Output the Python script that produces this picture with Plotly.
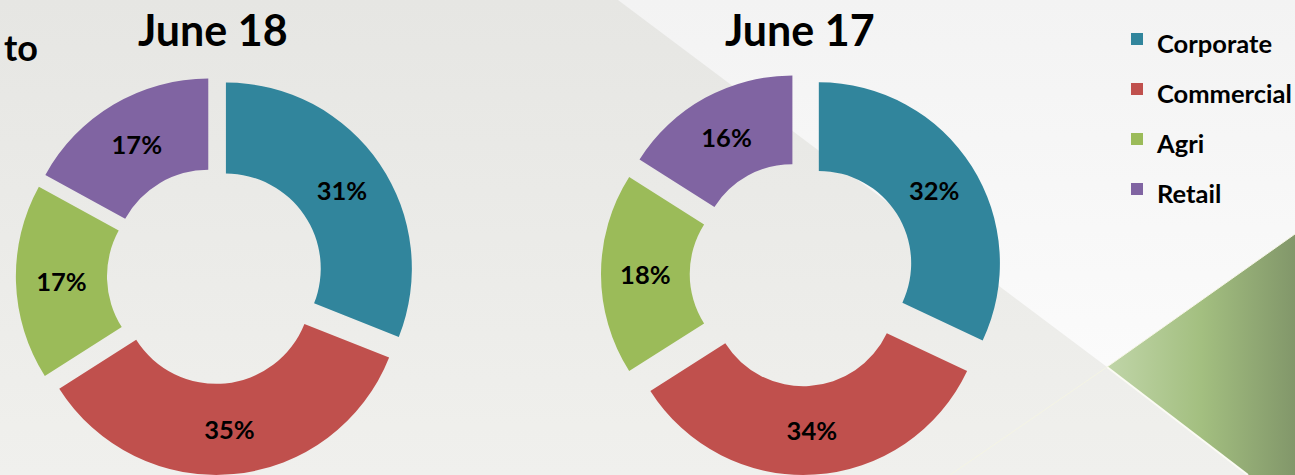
import plotly.graph_objects as go

# ---------------- data ----------------
categories = ["Corporate", "Commercial", "Agri", "Retail"]
june18_values = [31, 35, 17, 17]
june17_values = [32, 34, 18, 16]
chart_titles = ["June 18", "June 17"]
slice_colors = ["#31859c", "#c0504d", "#9bbb59", "#8064a2"]

# ---------------- layout constants ----------------
W, H = 1295, 475
FONT = "Lato"
LEGEND_TEXT_PX = 25.5

fig = go.Figure()

# ---------------- decorative slide background ----------------
def bg_poly(xs, ys, orient, scale, start, stop):
    fig.add_trace(go.Scatter(
        x=xs, y=ys, mode="lines", fill="toself",
        line=dict(width=0, color="rgba(0,0,0,0)"),
        fillgradient=dict(type=orient, colorscale=scale, start=start, stop=stop),
        hoverinfo="skip", showlegend=False))

def bg_line(xs, ys, color, width):
    fig.add_trace(go.Scatter(x=xs, y=ys, mode="lines",
                             line=dict(color=color, width=width),
                             hoverinfo="skip", showlegend=False))

# base grey
bg_poly([0, W, W, 0, 0], [0, 0, H, H, 0], "vertical",
        [[0, "#e6e6e3"], [1, "#f0f0ed"]], 0, H)
# light upper-right panel
bg_poly([618, W, W, 1107, 618], [0, 0, 234, 367, 0], "vertical",
        [[0, "#f3f3f3"], [1, "#fbfbfb"]], 0, 367)
# green triangle
bg_poly([1107, W, W, 1248, 1107], [367, 234, H, H, 367], "horizontal",
        [[0, "#c0d5a8"], [0.5, "#a3bf80"], [1, "#82976a"]], 1107, W)
# thin edge lines
bg_line([1107, 1248], [367, H], "#fbfbf4", 2)
bg_line([1107, 950], [367, H], "#f4f4e4", 1)
bg_line([1107, W], [367, 234], "#f6f6e6", 1)

# ---------------- donuts ----------------
legend_labels = ['<span style="font-size:%spx">%s</span>' % (LEGEND_TEXT_PX, c) for c in categories]

def donut(values, cx, cy, r, pull, hole, showlegend):
    half = r * (1 + pull)
    yc = H - cy
    fig.add_trace(go.Pie(
        labels=legend_labels, values=values, sort=False,
        direction="clockwise", rotation=0, hole=hole,
        pull=[pull] * len(values),
        marker=dict(colors=slice_colors, line=dict(width=0)),
        texttemplate="<b>%{value}%</b>", textposition="inside",
        insidetextorientation="horizontal",
        textfont=dict(family=FONT, size=25.5, color="black"),
        domain=dict(x=[(cx - half) / W, (cx + half) / W],
                    y=[max(0, yc - half) / H, min(H, yc + half) / H]),
        showlegend=showlegend, hoverinfo="percent"))

donut(june18_values, 215, 277, 187, 0.071, 0.51, True)
donut(june17_values, 802, 275, 182, 0.11, 0.51, False)

# ---------------- texts ----------------
annotations = [
    dict(text="<b>%s</b>" % chart_titles[0], x=213 / W, y=1 - 30 / H),
    dict(text="<b>%s</b>" % chart_titles[1], x=800 / W, y=1 - 30 / H),
]
for a in annotations:
    a.update(xref="paper", yref="paper", xanchor="center", yanchor="middle",
             showarrow=False, font=dict(family=FONT, size=43, color="black"))
annotations.append(dict(text="<b>to</b>", x=2 / W, y=1 - 47 / H, xref="paper", yref="paper",
                        xanchor="left", yanchor="middle", showarrow=False,
                        font=dict(family=FONT, size=36, color="black")))

fig.update_layout(
    width=W, height=H,
    margin=dict(l=0, r=0, t=0, b=0, autoexpand=False),
    paper_bgcolor="#ebebe8", plot_bgcolor="rgba(0,0,0,0)",
    xaxis=dict(range=[0, W], visible=False, fixedrange=True, domain=[0, 1]),
    yaxis=dict(range=[H, 0], visible=False, fixedrange=True, domain=[0, 1]),
    showlegend=True,
    legend=dict(x=1117 / W, xanchor="left", y=1 - 9 / H, yanchor="top",
                bgcolor="rgba(0,0,0,0)", borderwidth=0,
                font=dict(family=FONT, size=36.15, color="black", weight="bold")),
    annotations=annotations,
)

fig.write_html("out.html", config={"displayModeBar": False},
               post_script="document.body.style.margin='0';")
